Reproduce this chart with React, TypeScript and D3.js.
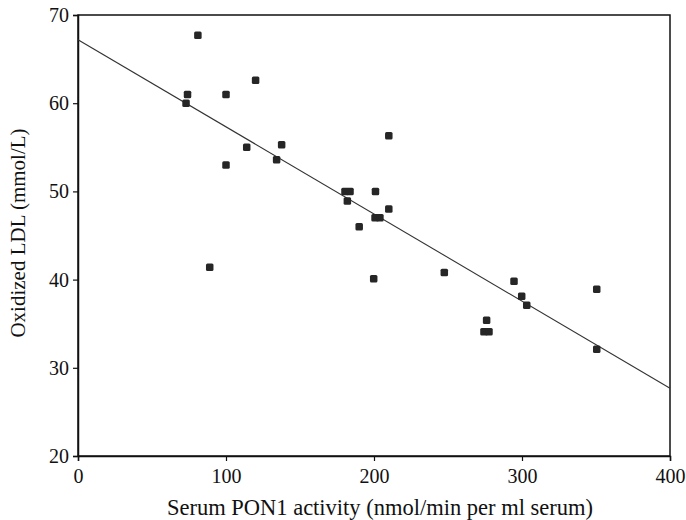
import React, { useEffect, useRef } from "react"
import * as d3 from "d3"

// serum PON1 activity (x) vs oxidized LDL (y)
const ponActivity = [81, 74, 73, 100, 100, 114, 120, 89, 137.6, 134.2, 180.4, 183.8, 182, 201, 210, 210, 200.7, 204, 190, 199.8, 247.5, 294.6, 299.8, 303.2, 276.1, 274.3, 277.7, 350.5, 350.5]
const oxLdl = [67.7, 61, 60, 61, 53, 55, 62.6, 41.4, 55.3, 53.6, 50, 50, 48.9, 50, 56.3, 48, 47, 47, 46, 40.1, 40.8, 39.8, 38.1, 37.1, 35.4, 34.1, 34.1, 38.9, 32.1]

const xTicks = [0, 100, 200, 300, 400]
const yTicks = [20, 30, 40, 50, 60, 70]

// fitted line: y = intercept + slope * x
const fitIntercept = 67.2
const fitSlope = -0.0988

const width = 686
const height = 520

export default function App() {
  const ref = useRef<SVGSVGElement>(null)

  useEffect(() => {
    const svg = d3.select(ref.current)
    svg.selectAll("*").remove()

    const margin = { top: 15, right: 16, bottom: 64, left: 78 }
    const x = d3.scaleLinear().domain([0, 400]).range([margin.left, width - margin.right])
    const y = d3.scaleLinear().domain([20, 70]).range([height - margin.bottom, margin.top])

    const font = "'Liberation Serif', 'Times New Roman', serif"

    // frame
    svg.append("rect")
      .attr("x", x(0))
      .attr("y", y(70))
      .attr("width", x(400) - x(0))
      .attr("height", y(20) - y(70))
      .attr("fill", "none")
      .attr("stroke", "#111")
      .attr("stroke-width", 1.5)

    const xAxis = svg.append("g")
      .attr("transform", `translate(0,${y(20)})`)
      .call(d3.axisBottom(x).tickValues(xTicks).tickSize(5).tickPadding(8))
    const yAxis = svg.append("g")
      .attr("transform", `translate(${x(0)},0)`)
      .call(d3.axisLeft(y).tickValues(yTicks).tickSize(5).tickPadding(4))

    for (const g of [xAxis, yAxis]) {
      g.select(".domain").attr("stroke", "#111").attr("stroke-width", 1.5)
      g.selectAll(".tick line").attr("stroke", "#111").attr("stroke-width", 1.2)
      g.selectAll(".tick text")
        .attr("font-family", font)
        .attr("font-size", 20)
        .attr("fill", "#111")
    }

    // regression line
    const line = d3.line<number>()
      .x((d) => x(d))
      .y((d) => y(fitIntercept + fitSlope * d))
    svg.append("path")
      .datum([0, 400])
      .attr("d", line)
      .attr("fill", "none")
      .attr("stroke", "#333")
      .attr("stroke-width", 1.1)

    const s = 7.5
    svg.append("g")
      .selectAll("rect")
      .data(ponActivity.map((v, i) => [v, oxLdl[i]]))
      .join("rect")
      .attr("x", (d) => x(d[0]) - s / 2)
      .attr("y", (d) => y(d[1]) - s / 2)
      .attr("width", s)
      .attr("height", s)
      .attr("rx", 1.5)
      .attr("fill", "#262626")

    svg.append("text")
      .attr("x", 380)
      .attr("y", 515)
      .attr("text-anchor", "middle")
      .attr("font-family", font)
      .attr("font-size", 22.5)
      .attr("fill", "#111")
      .text("Serum PON1 activity (nmol/min per ml serum)")

    svg.append("text")
      .attr("transform", `translate(25,233) rotate(-90)`)
      .attr("text-anchor", "middle")
      .attr("font-family", font)
      .attr("font-size", 21)
      .attr("fill", "#111")
      .text("Oxidized LDL (mmol/L)")
  }, [])

  return (
    <svg
      ref={ref}
      width={width}
      height={height}
      style={{ position: "absolute", left: 0, top: 0, background: "#fff" }}
    />
  )
}
